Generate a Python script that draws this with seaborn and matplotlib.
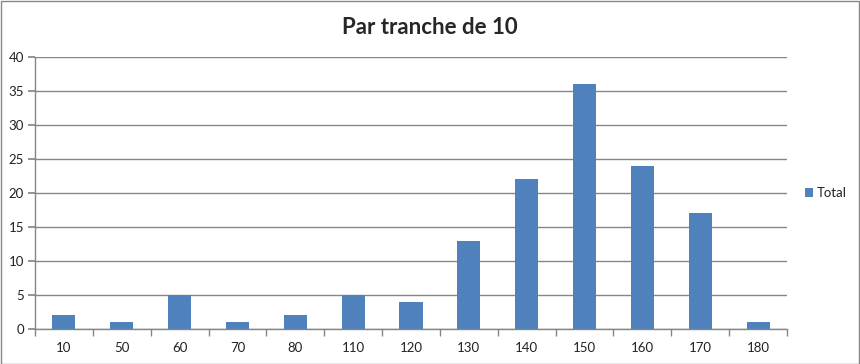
import matplotlib
matplotlib.use("Agg")
import matplotlib.pyplot as plt
import seaborn as sns
import pandas as pd
from matplotlib.patches import Rectangle

categories = ["10", "50", "60", "70", "80", "110", "120", "130", "140", "150", "160", "170", "180"]
totals = [2, 1, 5, 1, 2, 5, 4, 13, 22, 36, 24, 17, 1]
yticks = [0, 5, 10, 15, 20, 25, 30, 35, 40]

df = pd.DataFrame({"tranche": categories, "Total": totals})

sns.set_theme(style="white")
plt.rcParams["font.family"] = ["Lato", "DejaVu Sans"]

fig = plt.figure(figsize=(8.6, 3.64), dpi=100)
ax = fig.add_axes([35/860, 1-329/364, (787-35)/860, (329-57)/364])

bar_color = "#4F81BD"
sns.barplot(data=df, x="tranche", y="Total", color=bar_color, width=0.4,
            saturation=1, ax=ax, label="Total", linewidth=0, edgecolor="none")

ax.set_ylim(0, 40)
ax.set_xlim(-0.5, len(categories) - 0.5)
ax.set_yticks(yticks)
ax.yaxis.grid(True, color="#868686", linewidth=1)
ax.set_axisbelow(True)
ax.set_xlabel("")
ax.set_ylabel("")

for s in ["top", "right"]:
    ax.spines[s].set_visible(False)
for s in ["left", "bottom"]:
    ax.spines[s].set_color("#868686")
    ax.spines[s].set_linewidth(1)

ax.tick_params(axis="y", which="major", length=5, color="#868686", labelsize=9.5, pad=3, left=True, direction="out")
ax.tick_params(axis="x", which="major", length=0, labelsize=9.5, pad=9)
ax.set_xticks([i + 0.5 for i in range(-1, len(categories))], minor=True)
ax.tick_params(axis="x", which="minor", length=5, color="#868686", bottom=True, direction="out")
for lbl in ax.get_xticklabels() + ax.get_yticklabels():
    lbl.set_color("#222222")

fig.suptitle("Par tranche de 10", y=1-27/364, va="center", fontsize=16, fontweight="bold")

leg = ax.legend(loc="center left", bbox_to_anchor=(1.008, 0.5), frameon=False,
                fontsize=9.5, handlelength=0.6, handleheight=0.6, handletextpad=0.3)
for t in leg.get_texts():
    t.set_color("#222222")

fig.patches.append(Rectangle((0.5/860, 0.5/364), 1-1.5/860, 1-1.5/364, transform=fig.transFigure,
                             fill=False, edgecolor="#868686", linewidth=1))

fig.savefig("out.png", dpi=100)
